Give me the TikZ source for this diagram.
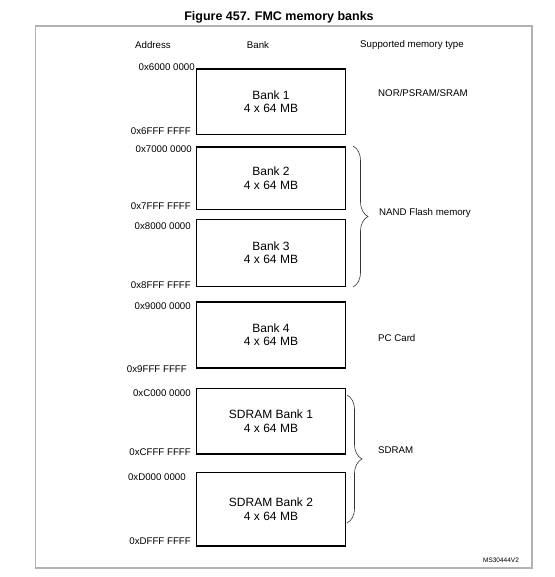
\documentclass[tikz,border=0pt]{standalone}
\usepackage{fontspec}
\setmainfont{Liberation Sans}
\usetikzlibrary{positioning}
\usetikzlibrary{decorations.pathreplacing}

\begin{document}
\begin{tikzpicture}[x=1pt,y=-1pt,
  bank/.style={draw,line width=1.4pt,inner sep=0pt,minimum width=149pt,align=center,font=\fontsize{12}{13.4}\selectfont},
  addr/.style={anchor=east,inner sep=0pt,font=\fontsize{9.7}{11}\selectfont},
  memtype/.style={anchor=west,inner sep=0pt,font=\fontsize{9.7}{11}\selectfont},
  head/.style={inner sep=0pt,font=\fontsize{9.7}{11}\selectfont},
  curly/.style={decorate,decoration={brace,amplitude=15pt},line width=0.6pt,black!80}]
  \useasboundingbox (0,0) rectangle (554,577);

  \node[font=\bfseries\fontsize{12.5}{14}\selectfont] (title) at (279,17) {Figure 457. FMC memory banks};
  \draw[gray!60,line width=1.3pt] (35.5,26) rectangle (532,568);

  \node[head] (haddr) at (153,45) {Address};
  \node[head] (hbank) at (258,45) {Bank};
  \node[head] (htype) at (412,45) {Supported memory type};

  \node[bank,minimum height=65.5pt] (b1) at (271,101.75) {Bank 1\\4 x 64 MB};
  \node[bank,minimum height=62.5pt] (b2) at (271,178.25) {Bank 2\\4 x 64 MB};
  \node[bank,minimum height=67pt] (b3) at (271,253) {Bank 3\\4 x 64 MB};
  \node[bank,minimum height=66pt] (b4) at (271,335) {Bank 4\\4 x 64 MB};
  \node[bank,minimum height=65.5pt] (s1) at (271,421.25) {SDRAM Bank 1\\4 x 64 MB};
  \node[bank,minimum height=73.5pt] (s2) at (271,509.25) {SDRAM Bank 2\\4 x 64 MB};

  \node[addr] (a6s) at (195,67) {0x6000 0000};
  \node[addr] (a6e) at (191,131) {0x6FFF FFFF};
  \node[addr] (a7s) at (192,149) {0x7000 0000};
  \node[addr] (a7e) at (191,206) {0x7FFF FFFF};
  \node[addr] (a8s) at (191,226) {0x8000 0000};
  \node[addr] (a8e) at (191,285) {0x8FFF FFFF};
  \node[addr] (a9s) at (191,306) {0x9000 0000};
  \node[addr] (a9e) at (187,369) {0x9FFF FFFF};
  \node[addr] (acs) at (191,393) {0xC000 0000};
  \node[addr] (ace) at (191,452) {0xCFFF FFFF};
  \node[addr] (ads) at (186,477) {0xD000 0000};
  \node[addr] (ade) at (191,541) {0xDFFF FFFF};

  \coordinate (nandtop) at (353,146);
  \coordinate (nandbot) at (353,287);
  \coordinate (sdtop) at (347,395);
  \coordinate (sdbot) at (347,523);
  \draw[curly] (nandtop) -- (nandbot);
  \draw[curly] (sdtop) -- (sdbot);

  \node[memtype] (tnor) at (378,93) {NOR/PSRAM/SRAM};
  \node[memtype] (tnand) at (379,212.5) {NAND Flash memory};
  \node[memtype] (tpc) at (378,338) {PC Card};
  \node[memtype] (tsd) at (378,450.5) {SDRAM};

  \node[inner sep=0pt,font=\fontsize{6.5}{7}\selectfont] (ref) at (501,560) {MS30444V2};
\end{tikzpicture}
\end{document}
